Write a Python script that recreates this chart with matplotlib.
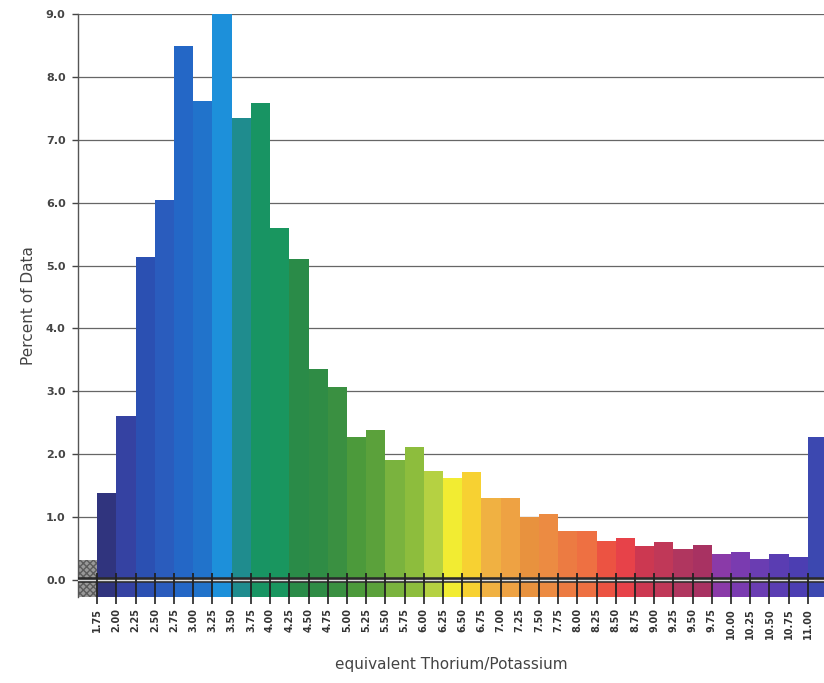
import numpy as np
import matplotlib
matplotlib.use("Agg")
import matplotlib.pyplot as plt

# bin edges shown as tick labels
tick_labels = ["1.75", "2.00", "2.25", "2.50", "2.75", "3.00", "3.25", "3.50", "3.75",
               "4.00", "4.25", "4.50", "4.75", "5.00", "5.25", "5.50", "5.75", "6.00",
               "6.25", "6.50", "6.75", "7.00", "7.25", "7.50", "7.75", "8.00", "8.25",
               "8.50", "8.75", "9.00", "9.25", "9.50", "9.75", "10.00", "10.25", "10.50",
               "10.75", "11.00"]
edges = [float(t) for t in tick_labels]

# bin left edges: under-range bin (<1.75), 37 regular bins, over-range bin (>11)
bin_left = [1.50] + edges
percent = [0.31, 1.38, 2.60, 5.13, 6.04, 8.49, 7.62, 9.10, 7.35, 7.59,
           5.60, 5.10, 3.36, 3.07, 2.27, 2.39, 1.90, 2.11, 1.73, 1.62,
           1.72, 1.31, 1.31, 1.00, 1.05, 0.78, 0.78, 0.62, 0.66, 0.54,
           0.60, 0.50, 0.55, 0.41, 0.44, 0.34, 0.41, 0.36, 2.28]
colors = ["#999999",
          "#30347e", "#3542a2", "#2b50b2", "#2a5cbd", "#2467c6", "#2173cb", "#1d90da",
          "#1f8c8e", "#189463", "#19965f", "#2a8b48", "#2f8c45", "#3a9041", "#4c9a3b",
          "#5ba13b", "#7ab33e", "#8dbd3d", "#b5d142", "#f2ec32", "#f7d132", "#f0b142",
          "#eea243", "#e8923e", "#ec8b42", "#ec7b42", "#ee7042", "#ec5342", "#e74249",
          "#cc3851", "#c03858", "#b0365f", "#a83262", "#8a3aa8", "#7a3bb0", "#6a3db2",
          "#5a3db2", "#4c3eb2", "#3c48b0"]

base = -0.27
width = 0.25

fig = plt.figure(figsize=(8.24, 6.83), dpi=100)
ax = fig.add_axes([0.0947, 0.126, 0.9053, 0.8535])

# horizontal grid behind the bars
for y in range(1, 10):
    ax.axhline(y, color="#666666", lw=0.9, zorder=0)

bars = ax.bar(bin_left, np.array(percent) - base, width=width, bottom=base,
              align="edge", color=colors, linewidth=0, zorder=2)
bars[0].set_hatch("xxxxx")
bars[0].set_edgecolor("#5c5c5c")

# double zero line
ax.axhline(0, color="#2a2a2a", lw=4.0, zorder=3)
ax.axhline(0, color="#dddddd", lw=1.0, zorder=4)

# tick marks crossing the baseline
ax.vlines(edges, base, 0.11, color="#222222", lw=1.3, zorder=5)

ax.set_xlim(1.50, 11.21)
ax.set_ylim(base, 9.0)

ax.set_xticks(edges)
ax.set_xticklabels(tick_labels, rotation=90, fontsize=7, fontweight="bold", color="#333333")
ax.set_yticks(np.arange(0, 10))
ax.set_yticklabels([f"{v:.1f}" for v in range(10)], fontsize=8, fontweight="bold",
                   color="#444444")
ax.tick_params(axis="x", length=5, width=1.2, pad=3, color="#222222")
ax.tick_params(axis="y", length=4, width=1.0, pad=5, color="#444444")

for side in ["top", "right", "bottom"]:
    ax.spines[side].set_visible(False)
ax.spines["left"].set_color("#555555")
ax.spines["left"].set_linewidth(1.0)

ax.set_ylabel("Percent of Data", fontsize=11, color="#444444", labelpad=7)
ax.set_xlabel("equivalent Thorium/Potassium", fontsize=11, color="#444444", labelpad=13)

fig.savefig("out.png", dpi=100)
